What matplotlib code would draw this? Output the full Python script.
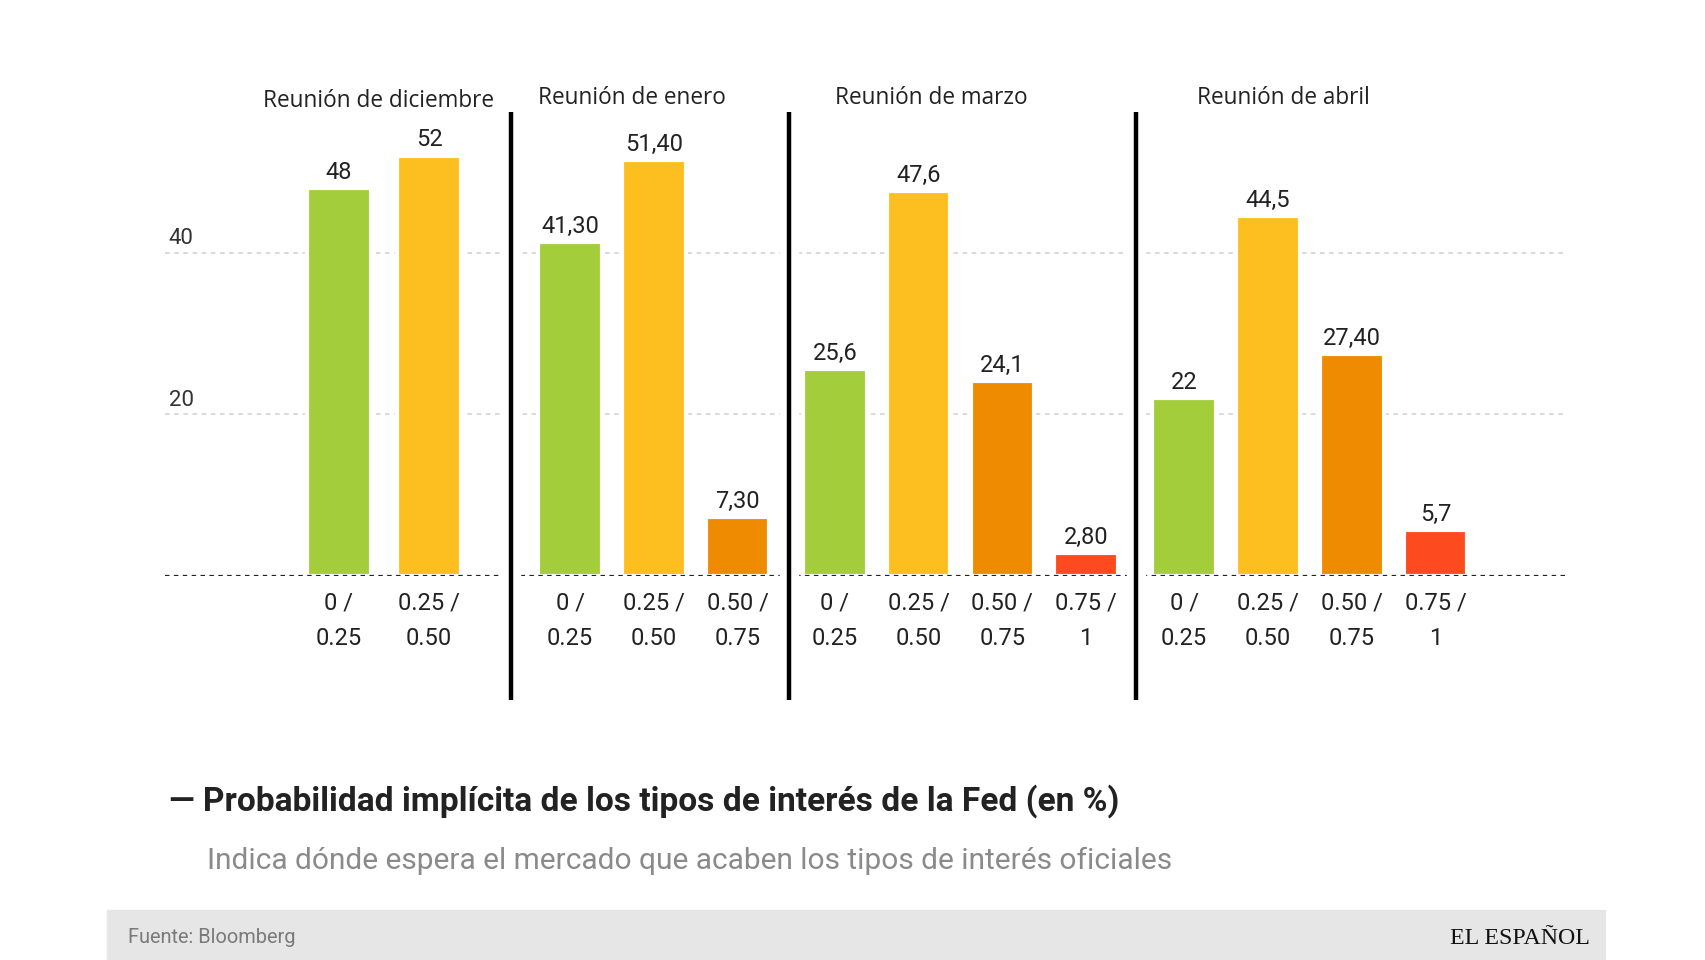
import matplotlib
matplotlib.use("Agg")
import matplotlib.pyplot as plt
import matplotlib.patheffects as pe
import matplotlib.transforms as mtransforms
from matplotlib.patches import Rectangle
import numpy as np

# ---------------- data ----------------
groups = ["Reunión de diciembre", "Reunión de enero", "Reunión de marzo", "Reunión de abril"]
categories = ["0 /\n0.25", "0.25 /\n0.50", "0.50 /\n0.75", "0.75 /\n1"]
dec_values = [48, 52]
jan_values = [41.3, 51.4, 7.3]
mar_values = [25.6, 47.6, 24.1, 2.8]
apr_values = [22, 44.5, 27.4, 5.7]
dec_labels = ["48", "52"]
jan_labels = ["41,30", "51,40", "7,30"]
mar_labels = ["25,6", "47,6", "24,1", "2,80"]
apr_labels = ["22", "44,5", "27,40", "5,7"]
y_ticks = [20, 40]

title = "— Probabilidad implícita de los tipos de interés de la Fed (en %)"
subtitle = "Indica dónde espera el mercado que acaben los tipos de interés oficiales"
source = "Fuente: Bloomberg"
logo = "EL ESPAÑOL"

# ---------------- style / layout ----------------
colors = ["#a3cd3b", "#fdbf1f", "#ee8b00", "#fe4a1f"]
group_start = [2.07, 4.83, 7.99, 12.16]     # first bar centre of each group (slot units)
group_step = [1.08, 1.0, 1.0, 1.0]
separators = [4.12, 7.44, 11.58]
title_x = [2.55, 5.57, 9.14, 13.35]
title_y = [98, 96, 96, 96]
XMAX = 16.7
YMAX = 57.37

values_all = [dec_values, jan_values, mar_values, apr_values]
labels_all = [dec_labels, jan_labels, mar_labels, apr_labels]

W, H = 1706, 960
fig = plt.figure(figsize=(W / 100, H / 100), dpi=100)
fig.patch.set_facecolor("white")

ax = fig.add_axes([0.0969, 0.4002, 0.9171 - 0.0969, 0.8832 - 0.4002])
ax.set_xlim(0, XMAX)
ax.set_ylim(0, YMAX)
ax.axis("off")
blend = mtransforms.blended_transform_factory(ax.transData, fig.transFigure)

# grid lines
for t in y_ticks:
    ax.axhline(t, color="#cfcfcf", lw=1.1, ls=(0, (3, 3)), zorder=1)
    ax.text(0.0023, t + 1.0, str(t), transform=ax.get_yaxis_transform(),
            fontsize=16, family="Roboto", color="#333333", va="baseline", ha="left")

# bars
for g, (vals, labs) in enumerate(zip(values_all, labels_all)):
    xs = group_start[g] + group_step[g] * np.arange(len(vals))
    ax.bar(xs, vals, width=0.76, color=colors[:len(vals)], edgecolor="white",
           linewidth=3, zorder=2)
    for x, v, lab in zip(xs, vals, labs):
        ax.annotate(lab, (x, v), xytext=(0, 3), textcoords="offset points",
                    ha="center", va="bottom", fontsize=17, family="Roboto",
                    color="#222222", zorder=5)
    for x, c in zip(xs, categories[:len(vals)]):
        ax.annotate(c, (x, 0), xytext=(0, -11), textcoords="offset points",
                    ha="center", va="top", fontsize=17, family="Roboto",
                    color="#222222", linespacing=1.7, annotation_clip=False)
    ax.text(title_x[g], 1 - title_y[g] / 882, groups[g], transform=blend,
            ha="center", va="baseline", fontsize=16.3, family="Open Sans",
            color="#222222")

# baseline
ax.axhline(0, color="#222222", lw=1.6, ls=(0, (2, 2)), zorder=4)

# separators
for s in separators:
    ax.plot([s, s], [YMAX, -15.35], color="black", lw=3.2, clip_on=False,
            solid_capstyle="butt", zorder=6,
            path_effects=[pe.Stroke(linewidth=14, foreground="white"), pe.Normal()])

# titles
t_title = fig.text(155 / 1568, 1 - 745 / 882, title, fontsize=24, family="Roboto",
                   weight="bold", color="#222222", va="baseline", ha="left")
t_sub = fig.text(190 / 1568, 1 - 798 / 882, subtitle, fontsize=19, family="Roboto",
                 color="#8a8a8a", va="baseline", ha="left")

# footer
fig.patches.append(Rectangle((98 / 1568, 0), (1475 - 98) / 1568, 1 - 836 / 882,
                             transform=fig.transFigure, color="#e6e6e6", zorder=0))
t_src = fig.text(118 / 1568, 1 - 866 / 882, source, fontsize=13, family="Roboto",
                 color="#7a7a7a", va="baseline", ha="left")
t_logo = fig.text(1461 / 1568, 1 - 867 / 882, logo, fontsize=16, family="Liberation Serif",
                  color="#111111", va="baseline", ha="right")

# fit widths to reference
fig.canvas.draw()
r = fig.canvas.get_renderer()
scale = W / 1568
for t, target in [(t_title, 873), (t_sub, 888), (t_src, 154), (t_logo, 128)]:
    bb = t.get_window_extent(r)
    t.set_fontsize(t.get_fontsize() * target * scale / bb.width)

fig.savefig("out.png", dpi=100, facecolor="white")
